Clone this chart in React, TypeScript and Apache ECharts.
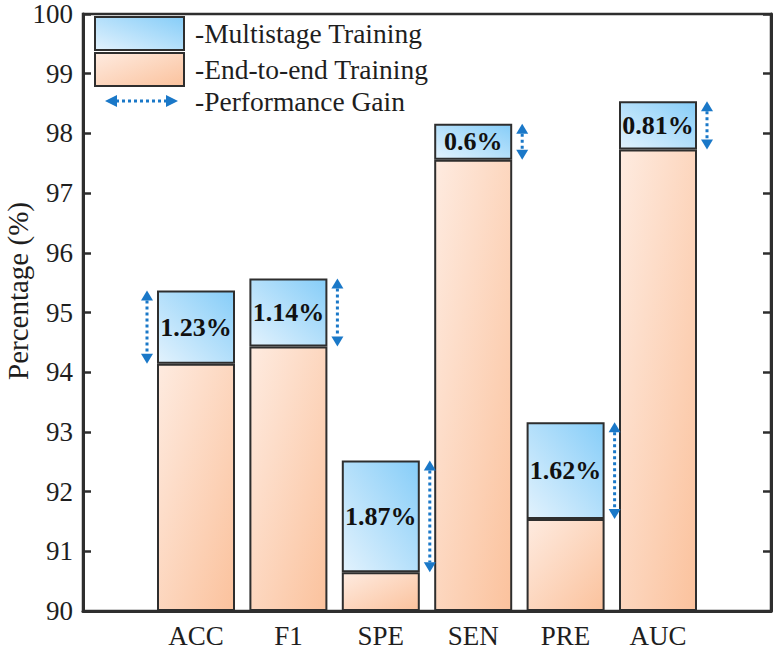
import React, { useEffect, useRef } from "react";
import * as echarts from "echarts";

const categories = ["ACC", "F1", "SPE", "SEN", "PRE", "AUC"];
const endToEnd = [94.14, 94.43, 90.65, 97.56, 91.54, 97.73];
const gains = [1.23, 1.14, 1.87, 0.6, 1.62, 0.81];
const arrowSide = [-1, 1, 1, 1, 1, 1];
const yMin = 90;
const yMax = 100;
const yInterval = 1;
const yTitle = "Percentage (%)";
const legendNames = ["-Multistage Training", "-End-to-end Training", "-Performance Gain"];

const FONT = "'Liberation Serif', 'Times New Roman', serif";
const ARROW = "#1a78c8";
const AXIS = "#2e2e2e";
const TEXT = "#1e1e1e";

const blueGrad = () =>
  new echarts.graphic.LinearGradient(0, 1, 1, 0, [
    { offset: 0, color: "#e2f2fd" },
    { offset: 1, color: "#86cdf8" },
  ]);
const orangeGrad = () =>
  new echarts.graphic.LinearGradient(0, 0, 1, 1, [
    { offset: 0, color: "#feebe0" },
    { offset: 1, color: "#fbc29d" },
  ]);

export default function App() {
  const ref = useRef<HTMLDivElement>(null);
  useEffect(() => {
    if (!ref.current) return;
    const chart = echarts.init(ref.current, null, { renderer: "svg" });
    const top = 14;
    const height = 597;
    const option: any = {
      animation: false,
      backgroundColor: "#ffffff",
      grid: [
        { left: 83, top, width: 688, height, show: true, borderColor: AXIS, borderWidth: 2.5, backgroundColor: "transparent", outerBoundsMode: "none", containLabel: false },
        { left: 149.8, top, width: 554.4, height, outerBoundsMode: "none", containLabel: false },
      ],
      xAxis: [
        {
          gridIndex: 0, type: "value", min: 0, max: 1,
          axisLine: { show: true, lineStyle: { color: AXIS, width: 3 } },
          axisTick: { show: false }, axisLabel: { show: false }, splitLine: { show: false },
        },
        {
          gridIndex: 1, type: "category", data: categories,
          axisLine: { show: false }, axisTick: { show: false },
          axisLabel: { fontFamily: FONT, fontSize: 27, color: TEXT, margin: 11 },
        },
      ],
      yAxis: [
        {
          gridIndex: 0, type: "value", min: yMin, max: yMax, interval: yInterval,
          axisLine: { show: true, lineStyle: { color: AXIS, width: 3 } },
          axisTick: { show: true, inside: true, length: 8, lineStyle: { color: AXIS, width: 2.5 } },
          axisLabel: { fontFamily: FONT, fontSize: 27, lineHeight: 24, color: TEXT, margin: 10 },
          splitLine: { show: false },
        },
        {
          gridIndex: 0, type: "value", position: "right", min: yMin, max: yMax, interval: yInterval,
          axisLine: { show: true, lineStyle: { color: AXIS, width: 3 } },
          axisTick: { show: true, inside: true, length: 8, lineStyle: { color: AXIS, width: 2.5 } },
          axisLabel: { show: false }, splitLine: { show: false },
        },
        {
          gridIndex: 1, type: "value", min: yMin, max: yMax, interval: yInterval, show: false,
        },
      ],
      series: [
        {
          type: "bar", xAxisIndex: 1, yAxisIndex: 2, stack: "s", barWidth: 78, silent: true,
          data: categories.map(() => yMin),
          itemStyle: { color: "rgba(0,0,0,0)", borderWidth: 0 },
        },
        {
          type: "bar", xAxisIndex: 1, yAxisIndex: 2, stack: "s", barWidth: 78,
          data: endToEnd.map((v) => +(v - yMin).toFixed(2)),
          itemStyle: { color: orangeGrad(), borderColor: AXIS, borderWidth: 2 },
        },
        {
          type: "bar", xAxisIndex: 1, yAxisIndex: 2, stack: "s", barWidth: 78,
          data: gains,
          itemStyle: { color: blueGrad(), borderColor: AXIS, borderWidth: 2 },
          label: {
            show: true, position: "inside",
            formatter: (p: any) => `${gains[p.dataIndex]}%`,
            fontFamily: FONT, fontSize: 26, fontWeight: "bold", color: "#111111",
          },
        },
        {
          type: "custom", xAxisIndex: 1, yAxisIndex: 2, z: 5, clip: false,
          data: categories.map((_, i) => [i, endToEnd[i], +(endToEnd[i] + gains[i]).toFixed(2), arrowSide[i]]),
          encode: { x: 0, y: [1, 2] },
          renderItem: (params: any, api: any) => {
            const i = api.value(0);
            const lo = api.value(1);
            const hi = api.value(2);
            const side = api.value(3);
            const pt = api.coord([i, hi]);
            const pb = api.coord([i, lo]);
            const x = pt[0] + side * 49;
            const h = 10;
            const w = 6;
            return {
              type: "group",
              children: [
                { type: "line", shape: { x1: x, y1: pt[1] + h, x2: x, y2: pb[1] - h }, style: { stroke: ARROW, lineWidth: 3, lineDash: [3, 3] } },
                { type: "polygon", shape: { points: [[x, pt[1]], [x - w, pt[1] + h], [x + w, pt[1] + h]] }, style: { fill: ARROW } },
                { type: "polygon", shape: { points: [[x, pb[1]], [x - w, pb[1] - h], [x + w, pb[1] - h]] }, style: { fill: ARROW } },
              ],
            };
          },
        },
      ],
      graphic: [
        { type: "text", x: 18, y: 291, rotation: Math.PI / 2, style: { text: yTitle, font: `29px ${FONT}`, fill: TEXT, textAlign: "center", textVerticalAlign: "middle" } },
        { type: "rect", shape: { x: 95, y: 17, width: 89, height: 33 }, style: { fill: blueGrad(), stroke: AXIS, lineWidth: 2 } },
        { type: "rect", shape: { x: 95, y: 53, width: 89, height: 33 }, style: { fill: orangeGrad(), stroke: AXIS, lineWidth: 2 } },
        { type: "line", shape: { x1: 116, y1: 101, x2: 167, y2: 101 }, style: { stroke: ARROW, lineWidth: 3, lineDash: [3, 3] } },
        { type: "polygon", shape: { points: [[105, 101], [117, 95], [117, 107]] }, style: { fill: ARROW } },
        { type: "polygon", shape: { points: [[178, 101], [166, 95], [166, 107]] }, style: { fill: ARROW } },
        { type: "text", x: 195, y: 33, style: { text: legendNames[0], font: `27.5px ${FONT}`, fill: TEXT, textVerticalAlign: "middle" } },
        { type: "text", x: 195, y: 69, style: { text: legendNames[1], font: `27.5px ${FONT}`, fill: TEXT, textVerticalAlign: "middle" } },
        { type: "text", x: 195, y: 101, style: { text: legendNames[2], font: `27.5px ${FONT}`, fill: TEXT, textVerticalAlign: "middle" } },
      ],
    };
    chart.setOption(option);
    return () => chart.dispose();
  }, []);
  return <div ref={ref} style={{ position: "fixed", left: 0, top: 0, width: 778, height: 654 }} />;
}
